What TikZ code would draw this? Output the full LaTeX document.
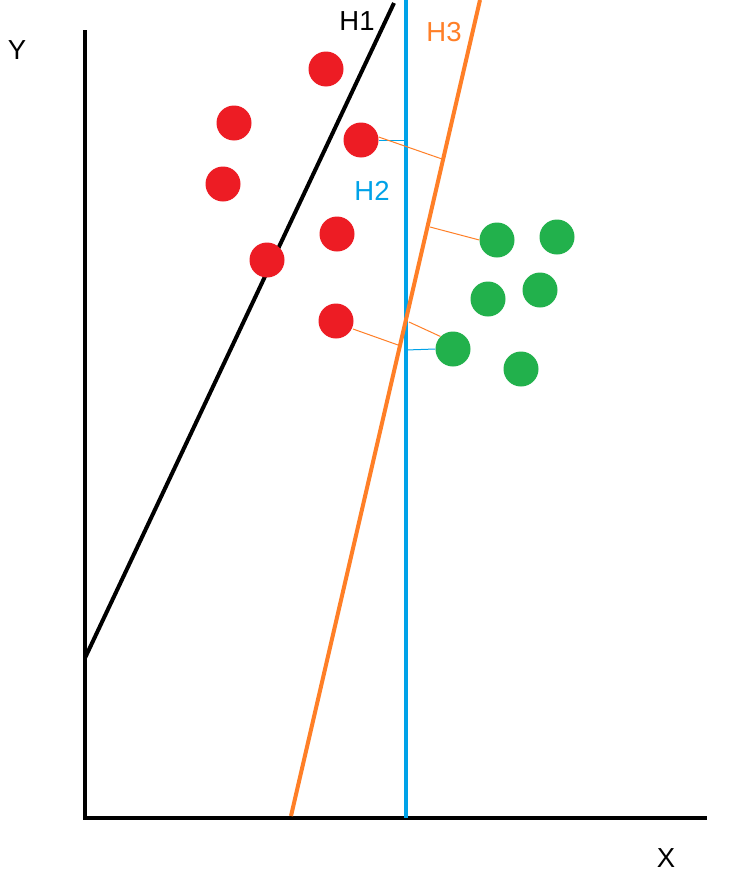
\documentclass[tikz,border=0pt]{standalone}
\usepackage{fontspec}
\setmainfont{Liberation Sans}
\definecolor{pred}{RGB}{237,28,36}
\definecolor{pgreen}{RGB}{34,177,76}
\definecolor{pblue}{RGB}{0,162,232}
\definecolor{porange}{RGB}{255,127,39}
\begin{document}
\begin{tikzpicture}[x=1pt,y=-1pt,
  reddot/.style={circle,fill=pred,minimum size=35pt,inner sep=0pt},
  greendot/.style={circle,fill=pgreen,minimum size=35pt,inner sep=0pt},
  thick line/.style={line width=4pt},
  thin link/.style={line width=1pt},
  lbl/.style={font=\fontsize{27.5}{30}\selectfont,inner sep=0pt}]
\useasboundingbox[fill=white] (0,0) rectangle (730,886);
% axes
\coordinate (ytop) at (85,32);
\coordinate (orig) at (85,818);
\coordinate (xend) at (705,818);
\draw[thick line,line cap=rect] (ytop) -- (orig) -- (xend);
\node[lbl] (ylab) at (17,50) {Y};
\node[lbl] (xlab) at (666,858) {X};
% hyperplanes
\coordinate (h1a) at (85,658);
\coordinate (h1b) at (394,3);
\draw[thick line] (h1a) -- (h1b);
\coordinate (h2a) at (406,0);
\coordinate (h2b) at (406,818);
\draw[thick line,pblue] (h2a) -- (h2b);
\coordinate (h3a) at (291,816);
\coordinate (h3b) at (480,0);
\draw[thick line,porange] (h3a) -- (h3b);
\node[lbl] (h1lab) at (357,21) {H1};
\node[lbl,text=pblue] (h2lab) at (372,191) {H2};
\node[lbl,text=porange] (h3lab) at (444,32) {H3};
% red points
\node[reddot] (r1) at (326,69) {};
\node[reddot] (r2) at (234,123) {};
\node[reddot] (r3) at (361,140) {};
\node[reddot] (r4) at (223,184) {};
\node[reddot] (r5) at (337,234) {};
\node[reddot] (r6) at (267,260) {};
\node[reddot] (r7) at (336,321) {};
% green points
\node[greendot] (g1) at (497,240) {};
\node[greendot] (g2) at (557,237) {};
\node[greendot] (g3) at (488,299) {};
\node[greendot] (g4) at (540,290) {};
\node[greendot] (g5) at (453,349) {};
\node[greendot] (g6) at (521,369) {};
% margin links
\coordinate (b1) at (406,140);
\coordinate (o1) at (442,159);
\coordinate (o2) at (430,227);
\coordinate (o3) at (398,345);
\coordinate (o4) at (409,322);
\coordinate (b2) at (406,350);
\draw[thin link,pblue] (r3.east) -- (b1);
\draw[thin link,porange] ([yshift=3pt]r3.east) -- (o1);
\draw[thin link,porange] (o2) -- (g1.west);
\draw[thin link,porange] (r7) ++(17,8) -- (o3);
\draw[thin link,porange] (o4) -- (g5.north west);
\draw[thin link,pblue] (b2) -- (g5.west);
\end{tikzpicture}
\end{document}
